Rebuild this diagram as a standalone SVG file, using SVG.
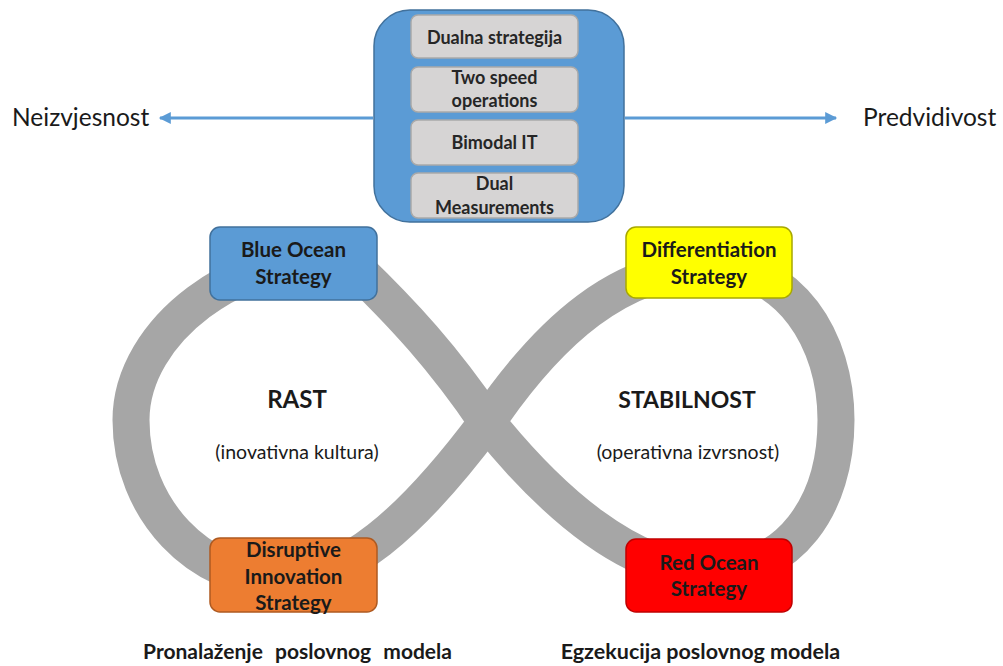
<svg xmlns="http://www.w3.org/2000/svg" width="1003" height="666" viewBox="0 0 1003 666">
<style>
text{font-family:Lato,"Open Sans","Liberation Sans",sans-serif;fill:#1a1a1a;text-anchor:middle}
.b{font-weight:bold}
.inner{fill:#D6D4D4;stroke:#A9A9A9;stroke-width:1.5}
.lbl{font-size:20.5px;font-weight:bold}
.il{font-size:18px;font-weight:bold;fill:#262626}
</style>
<defs>
<marker id="ah" viewBox="0 0 10 10" refX="9" refY="5" markerWidth="5" markerHeight="4" orient="auto-start-reverse">
<path d="M0,0 L10,5 L0,10 z" fill="#5B9BD5"/>
</marker>
</defs>
<rect width="1003" height="666" fill="#fff"/>
<g id="loop">
<path d="M487 422 C445 360 405 315 345 258 C240 250 131 330 131 420 C131 510 200 580 280 580 C345 580 410 525 487 422 C550 330 620 268 710 266 C790 266 836 340 836 420 C836 505 790 572 710 572 C630 572 550 500 487 422 Z" fill="none" stroke="#A6A6A6" stroke-width="37"/>
</g>
<g id="connectors">
<line x1="373" y1="118" x2="160" y2="118" stroke="#5B9BD5" stroke-width="3" marker-end="url(#ah)"/>
<line x1="625" y1="118" x2="836" y2="118" stroke="#5B9BD5" stroke-width="3" marker-end="url(#ah)"/>
</g>
<g id="top">
<rect x="374" y="10" width="250" height="212" rx="36" fill="#5B9BD5" stroke="#41719C" stroke-width="1.5"/>
<rect class="inner" x="411" y="15" width="167" height="43" rx="7"/>
<text class="il" x="494.5" y="44">Dualna strategija</text>
<rect class="inner" x="411" y="67" width="167" height="45" rx="7"/>
<text class="il" x="494.5" y="84">Two speed</text>
<text class="il" x="494.5" y="107">operations</text>
<rect class="inner" x="411" y="120" width="167" height="45" rx="7"/>
<text class="il" x="494.5" y="149">Bimodal  IT</text>
<rect class="inner" x="411" y="173" width="167" height="45" rx="7"/>
<text class="il" x="494.5" y="190">Dual</text>
<text class="il" x="494.5" y="214">Measurements</text>
</g>
<g id="neizvjesnost"><text x="12" y="126" style="text-anchor:start;font-size:24.5px">Neizvjesnost</text></g>
<g id="predvidivost"><text x="863" y="126" style="text-anchor:start;font-size:24.5px">Predvidivost</text></g>
<g id="blue-ocean">
<rect x="210" y="227" width="167" height="73" rx="10" fill="#5B9BD5" stroke="#41719C" stroke-width="1.5"/>
<text class="lbl" x="293.5" y="257">Blue Ocean</text>
<text class="lbl" x="293.5" y="284">Strategy</text>
</g>
<g id="differentiation">
<rect x="626" y="227" width="166" height="71" rx="10" fill="#FFFF00" stroke="#A8A800" stroke-width="1.5"/>
<text class="lbl" x="709" y="257">Differentiation</text>
<text class="lbl" x="709" y="284">Strategy</text>
</g>
<g id="disruptive">
<rect x="210" y="538" width="167" height="74" rx="10" fill="#ED7D31" stroke="#AE5A21" stroke-width="1.5"/>
<text class="lbl" x="293.5" y="557">Disruptive</text>
<text class="lbl" x="293.5" y="584">Innovation</text>
<text class="lbl" x="293.5" y="610">Strategy</text>
</g>
<g id="red-ocean">
<rect x="626" y="539" width="166" height="73" rx="10" fill="#FF0000" stroke="#C00000" stroke-width="1.5"/>
<text class="lbl" x="709" y="570">Red Ocean</text>
<text class="lbl" x="709" y="596">Strategy</text>
</g>
<g id="rast">
<text class="b" x="297" y="408" style="font-size:24px">RAST</text>
<text x="297" y="459" style="font-size:19.5px">(inovativna kultura)</text>
</g>
<g id="stabilnost">
<text class="b" x="687" y="408" style="font-size:23px">STABILNOST</text>
<text x="688" y="459" style="font-size:19.5px">(operativna izvrsnost)</text>
</g>
<g id="bottom">
<text class="b" x="297.5" y="659" style="font-size:21px;word-spacing:7px">Pronalaženje poslovnog modela</text>
<text class="b" x="700.5" y="659" style="font-size:21.5px">Egzekucija poslovnog modela</text>
</g>
</svg>
